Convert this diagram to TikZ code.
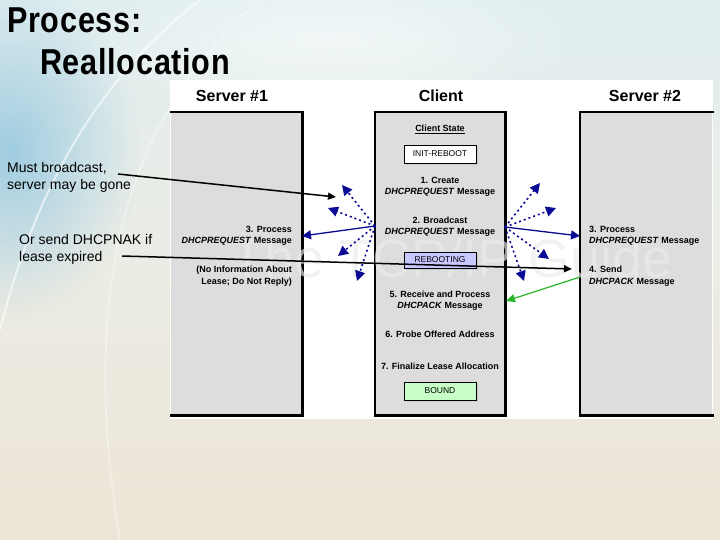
\documentclass[tikz,border=0pt]{standalone}
\usepackage{fontspec}
\setmainfont{Liberation Sans}
\newfontfamily\titlefont{Liberation Sans}[FakeStretch=0.85,LetterSpace=2]
\usetikzlibrary{arrows.meta,shadows,fadings}
\tikzfading[name=radfade,inner color=transparent!0,outer color=transparent!100]
\definecolor{colgray}{RGB}{221,221,221}
\definecolor{navy}{RGB}{10,10,150}
\definecolor{rebootfill}{RGB}{200,200,255}
\definecolor{boundfill}{RGB}{200,255,200}
\definecolor{ackgreen}{RGB}{40,180,40}
\definecolor{bgtop}{RGB}{224,238,240}
\definecolor{bgmid}{RGB}{236,236,228}
\definecolor{bgbot}{RGB}{237,229,215}
\definecolor{bgblue}{RGB}{160,205,225}
\definecolor{wmgray}{RGB}{236,236,236}
\begin{document}
\begin{tikzpicture}[x=1pt,y=-1pt,
  colbox/.style={fill=colgray,draw=none,inner sep=0,anchor=north west},
  colline/.style={line width=2.6pt,line cap=rect},
  head/.style={font=\fontsize{16}{18}\selectfont\bfseries,inner sep=0},
  lbl/.style={font=\fontsize{9}{11}\selectfont\bfseries,inner sep=0,align=center},
  statebox/.style={draw,line width=0.8pt,minimum width=72pt,inner sep=0,
    font=\fontsize{8.5}{10}\selectfont,
    drop shadow={shadow xshift=2pt,shadow yshift=-2pt,fill=black!25,opacity=0.6}},
  note/.style={font=\fontsize{14}{17}\selectfont,inner sep=0,align=left,anchor=west},
  bsolid/.style={draw=navy,line width=1.3pt,-{Triangle[length=9pt,width=9pt]}},
  bdot/.style={draw=navy,line width=1.6pt,dash pattern=on 2pt off 3pt,-{Triangle[length=10pt,width=10pt]}},
  notearrow/.style={draw=black,line width=1.5pt,-{Triangle[length=8pt,width=7pt]}},
  ackarrow/.style={draw=ackgreen,line width=1.2pt,-{Triangle[length=9pt,width=8pt]}}
]
\useasboundingbox (0,0) rectangle (720,540);
% slide background
\shade[top color=bgtop,bottom color=bgbot,middle color=bgmid] (0,0) rectangle (720,540);
\fill[bgblue,path fading=radfade] (10,150) ellipse (130 and 170);
\fill[white,opacity=0.55,path fading=radfade] (330,40) ellipse (260 and 90);
\draw[white,line width=2pt,opacity=0.6] (200,0) .. controls (110,70) and (40,170) .. (0,330);
\draw[white,line width=1.5pt,opacity=0.4] (260,0) .. controls (120,120) and (80,300) .. (120,540);
% title
\node[font=\titlefont\bfseries\fontsize{36}{40}\selectfont,anchor=base west,inner sep=0] (t1) at (7,33) {Process:};
\node[font=\titlefont\bfseries\fontsize{36}{40}\selectfont,anchor=base west,inner sep=0] (t2) at (40,75) {Reallocation};
% diagram panel
\fill[white] (170,80) rectangle (713,419);
\node[colbox,minimum width=131pt,minimum height=303pt] (s1) at (171,112) {};
\node[colbox,minimum width=130pt,minimum height=303pt] (cl) at (375,112) {};
\node[colbox,minimum width=132pt,minimum height=303pt] (s2) at (580,112) {};
\draw[colline] (s1.north west) -- (s1.north east) -- (s1.south east) -- (s1.south west);
\draw[colline] (cl.north west) rectangle (cl.south east);
\draw[colline] (s2.north east) -- (s2.north west) -- (s2.south west) -- (s2.south east);
% watermark
\node[text=wmgray,text opacity=0.65,font=\fontsize{54}{54}\selectfont,inner sep=0] (wm) at (452,258) {The TCP/IP Guide};
% headings
\node[head] (h1) at (232,96) {Server \#1};
\node[head] (h2) at (441,96) {Client};
\node[head] (h3) at (645,96) {Server \#2};
% client column
\node[lbl] (cs) at (440,129) {\underline{Client State}};
\node[statebox,fill=white,minimum height=18pt] (ir) at (440,154) {INIT-REBOOT};
\node[lbl] (c1) at (440,186.5) {1. Create\\\textit{DHCPREQUEST} Message};
\node[lbl] (c2) at (440,227) {2. Broadcast\\\textit{DHCPREQUEST} Message};
\node[lbl] (c5) at (440,301) {5. Receive and Process\\\textit{DHCPACK} Message};
\node[lbl] (c6) at (440,334) {6. Probe Offered Address};
\node[lbl] (c7) at (440,366) {7. Finalize Lease Allocation};
\node[statebox,fill=boundfill,minimum height=18pt] (bd) at (440,391) {BOUND};
% server 1
\node[lbl,align=right,anchor=east] (p1) at (292,235.5) {3. Process\\\textit{DHCPREQUEST} Message};
\node[lbl,align=right,anchor=east,font=\fontsize{9}{12}\selectfont\bfseries] (p1b) at (292,276) {(No Information About\\Lease; Do Not Reply)};
% server 2
\node[lbl,align=left,anchor=west] (p2) at (589,235.5) {3. Process\\\textit{DHCPREQUEST} Message};
\node[lbl,align=left,anchor=west,font=\fontsize{9}{12}\selectfont\bfseries] (p2b) at (589,276) {4. Send\\\textit{DHCPACK} Message};
% broadcast arrows
\coordinate (bl) at (375,226);
\coordinate (br) at (505,227);
\coordinate (bl1) at (342,185);
\coordinate (bl2) at (328,208);
\coordinate (bl3) at (338,256);
\coordinate (bl4) at (357,281);
\coordinate (br1) at (540,183);
\coordinate (br2) at (556,208);
\coordinate (br3) at (549,259);
\coordinate (br4) at (524,281);
\coordinate (s1in) at (302,236);
\coordinate (s2in) at (580,236);
\draw[bsolid] (bl) -- (s1in);
\draw[bsolid] (br) -- (s2in);
\foreach \t in {bl1,bl2,bl3,bl4} \draw[bdot] (bl) -- (\t);
\foreach \t in {br1,br2,br3,br4} \draw[bdot] (br) -- (\t);
% rebooting state box
\node[statebox,fill=rebootfill,minimum height=16pt] (rb) at (440,260) {REBOOTING};
% DHCPACK arrow
\coordinate (ackfrom) at (580,277);
\coordinate (ackto) at (506,301);
\draw[ackarrow] (ackfrom) -- (ackto);
% annotations
\node[note] (n1) at (7,177) {Must broadcast,\\server may be gone};
\node[note] (n2) at (19,249.5) {Or send DHCPNAK if\\lease expired};
\coordinate (n1s) at (118,174);
\coordinate (n1e) at (336,197);
\coordinate (n2s) at (122,256);
\coordinate (n2e) at (572,269);
\draw[notearrow] (n1s) -- (n1e);
\draw[notearrow] (n2s) -- (n2e);
\end{tikzpicture}
\end{document}
